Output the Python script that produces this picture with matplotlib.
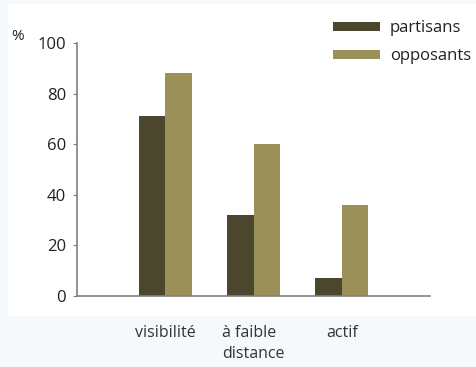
import numpy as np
import matplotlib.pyplot as plt
from matplotlib.patches import Rectangle

categories = ['visibilité', 'à faible\ndistance', 'actif']
partisans = [71, 32, 7]
opposants = [88, 60, 36]

dark = '#4b472f'
light = '#9a9058'
plt.rcParams['font.family'] = ['Open Sans', 'DejaVu Sans']

fig = plt.figure(figsize=(4.76, 3.67), dpi=100)
fig.patch.set_facecolor('#f5f9fb')
# white panel behind the chart
fig.patches.append(Rectangle((8 / 476, 1 - 316 / 367), 468 / 476, 312 / 367,
                             transform=fig.transFigure, facecolor='white',
                             edgecolor='none', zorder=-1))

ax = fig.add_axes([77 / 476, 1 - 296 / 367, 353 / 476, 253 / 367])
ax.set_zorder(2)
ax.patch.set_alpha(0)

x = np.arange(1, len(categories) + 1)
w = 0.3
b1 = ax.bar(x - w / 2, partisans, w, color=dark, label='partisans')
b2 = ax.bar(x + w / 2, opposants, w, color=light, label='opposants')

ax.set_xlim(0, 4)
ax.set_ylim(0, 100)
ax.set_yticks(range(0, 101, 20))
ax.set_xticks(x)
ax.set_xticklabels(categories, fontsize=11.5, color='#333333', multialignment='left',
                   linespacing=1.4)
ax.tick_params(axis='x', length=0, pad=21)
ax.tick_params(axis='y', length=3, color='#808080', labelsize=12, labelcolor='#222222', pad=5)
for s in ['top', 'right']:
    ax.spines[s].set_visible(False)
for s in ['left', 'bottom']:
    ax.spines[s].set_color('#808080')
    ax.spines[s].set_linewidth(1.2)

fig.text(18 / 476, 1 - 37 / 367, '%', fontsize=11, color='#222222', va='center', ha='center')

leg = fig.legend(handles=[b1, b2], loc='upper left', bbox_to_anchor=(333 / 476, 1 - 20 / 367),
                 frameon=False, fontsize=12, handlelength=2.8, handleheight=0.45,
                 handletextpad=0.6, labelspacing=0.75, borderpad=0, borderaxespad=0)
for t in leg.get_texts():
    t.set_color('#222222')

fig.savefig('out.png', dpi=100, facecolor=fig.get_facecolor())
